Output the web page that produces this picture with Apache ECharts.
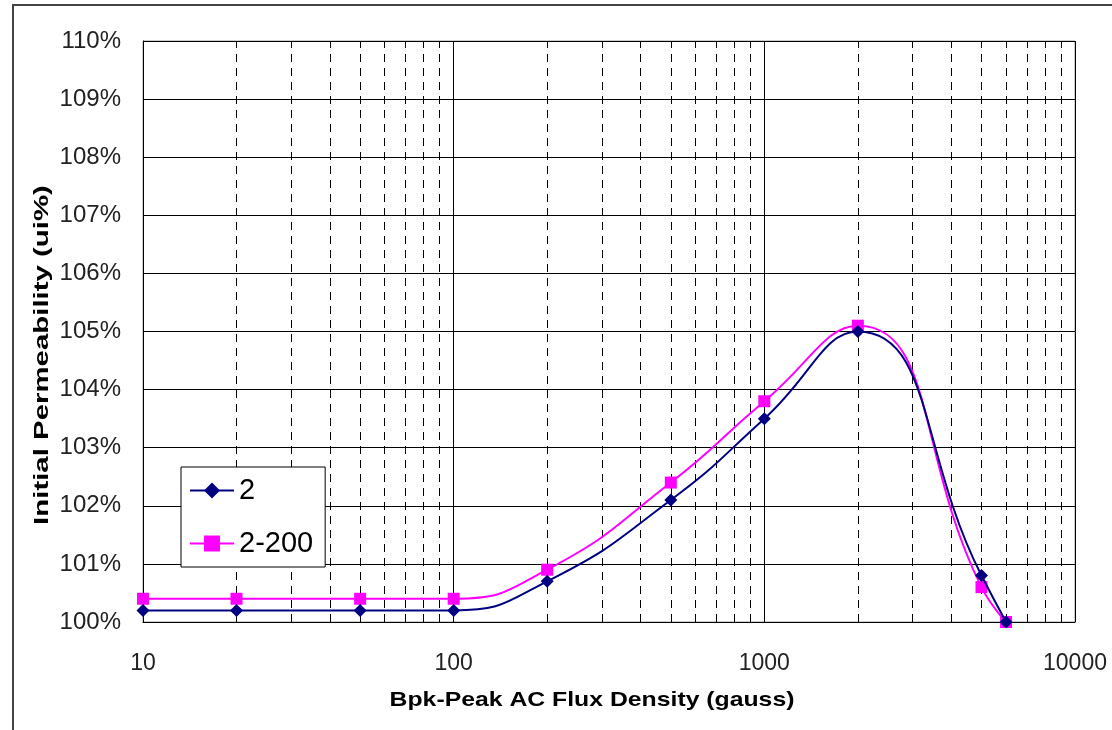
<!DOCTYPE html>
<html>
<head>
<meta charset="utf-8">
<script src="https://cdn.jsdelivr.net/npm/echarts@6/dist/echarts.min.js"></script>
<style>
  html, body { margin: 0; padding: 0; background: #fff; }
  #chart { width: 1112px; height: 730px; }
</style>
</head>
<body>
<div id="chart"></div>
<script>
// flux density (gauss)
const fluxValues = [10, 20, 50, 100, 200, 500, 1000, 2000, 5000, 6000];
// initial permeability in %
const series2 = [100.2, 100.2, 100.2, 100.2, 100.7, 102.1, 103.5, 105.0, 100.8, 100.0];
const series2200 = [100.4, 100.4, 100.4, 100.4, 100.9, 102.4, 103.8, 105.1, 100.6, 100.0];
// dashed minor grid positions on the log axis
const minorTicks = [20, 30, 40, 50, 60, 70, 80, 90,
  200, 300, 400, 500, 600, 700, 800, 900,
  2000, 3000, 4000, 5000, 6000, 7000, 8000, 9000];

const pairs = (ys) => fluxValues.map((x, i) => [x, ys[i]]);

const chart = echarts.init(document.getElementById("chart"), null, { renderer: "canvas" });

const font = "Liberation Sans, Arial, sans-serif";

const option = {
  animation: false,
  backgroundColor: "#fff",
  textStyle: { fontFamily: font },
  grid: {
    left: 143, right: 37, top: 41, bottom: 108,
    show: true, borderColor: "#999", borderWidth: 1
  },
  graphic: [
    {
      type: "rect",
      shape: { x: 13, y: 5, width: 1120, height: 760 },
      style: { fill: "none", stroke: "#444", lineWidth: 2 },
      silent: true
    },
    {
      // axis titles (the source image is a bit stretched, so scale them)
      type: "text",
      x: 592, y: 700,
      scaleX: 1.18,
      silent: true,
      style: {
        text: "Bpk-Peak AC Flux Density (gauss)",
        font: "bold 21px " + font,
        fill: "#000",
        textAlign: "center",
        textVerticalAlign: "middle"
      }
    },
    {
      type: "text",
      x: 42, y: 355,
      rotation: Math.PI / 2,
      scaleX: 1.4,
      silent: true,
      style: {
        text: "Initial Permeability (ui%)",
        font: "bold 21px " + font,
        fill: "#000",
        textAlign: "center",
        textVerticalAlign: "middle"
      }
    }
  ],
  legend: {
    data: ["2", "2-200"],
    orient: "vertical",
    left: 181,
    top: 467,
    z: 20,
    backgroundColor: "#fff",
    borderColor: "#000",
    borderWidth: 1,
    padding: [9, 12, 9, 8],
    itemGap: 24,
    itemWidth: 44,
    itemHeight: 20,
    textStyle: { fontSize: 29, color: "#000", fontFamily: font }
  },
  xAxis: {
    type: "log",
    logBase: 10,
    min: 10,
    max: 10000,
    axisLine: { lineStyle: { color: "#000", width: 1 } },
    axisTick: { show: false },
    axisLabel: {
      fontSize: 23, color: "#222", margin: 30, fontFamily: font,
      formatter: (v) => String(Math.round(v))
    },
    splitLine: { show: true, lineStyle: { color: "#000", width: 1 } }
  },
  yAxis: {
    type: "value",
    min: 100,
    max: 110,
    interval: 1,
    axisLine: { show: true, lineStyle: { color: "#000", width: 1 } },
    axisTick: { show: false },
    axisLabel: { fontSize: 24, color: "#222", margin: 22, formatter: "{value}%", fontFamily: font },
    splitLine: { show: true, lineStyle: { color: "#000", width: 1 } }
  },
  series: [
    {
      type: "line",
      data: [],
      silent: true,
      z: 1,
      markLine: {
        silent: true,
        z: 1,
        symbol: "none",
        label: { show: false },
        lineStyle: { color: "#000", width: 1, type: [8, 6] },
        data: minorTicks.map((v) => ({ xAxis: v }))
      }
    },
    {
      name: "2",
      type: "line",
      data: pairs(series2),
      smooth: 0.5,
      symbol: "diamond",
      symbolSize: 13,
      z: 4,
      itemStyle: { color: "#000080" },
      lineStyle: { color: "#000080", width: 2 }
    },
    {
      name: "2-200",
      type: "line",
      data: pairs(series2200),
      smooth: 0.5,
      symbol: "rect",
      symbolSize: 12,
      z: 3,
      itemStyle: { color: "#ff00ff" },
      lineStyle: { color: "#ff00ff", width: 2 }
    }
  ]
};

chart.setOption(option);
</script>
</body>
</html>
